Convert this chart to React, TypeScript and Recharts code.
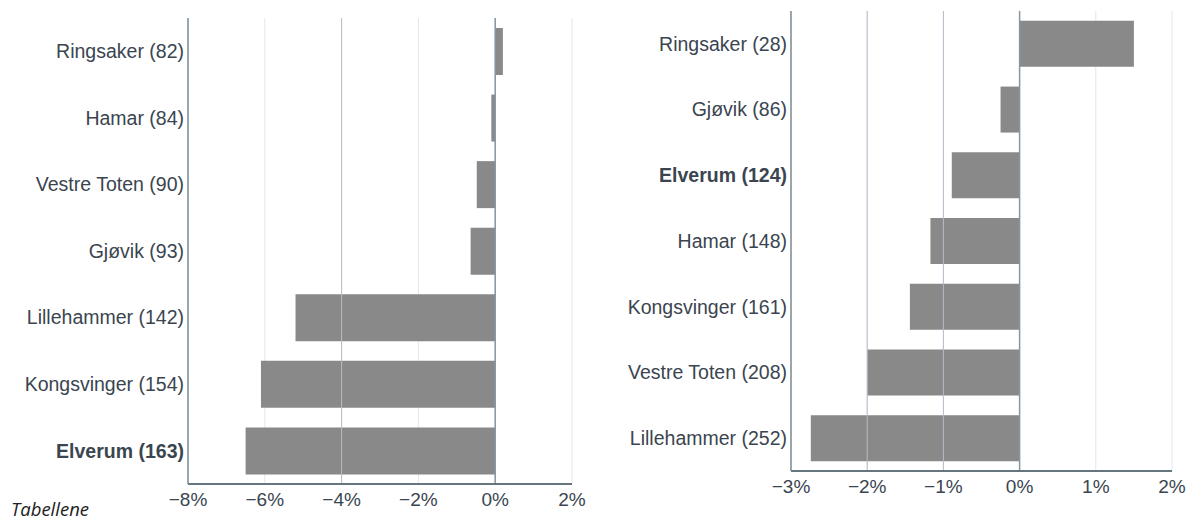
import React from 'react';
import { BarChart, Bar, XAxis, YAxis, CartesianGrid, ReferenceLine } from 'recharts';

// Left panel
const leftNames = ['Ringsaker (82)', 'Hamar (84)', 'Vestre Toten (90)', 'Gjøvik (93)', 'Lillehammer (142)', 'Kongsvinger (154)', 'Elverum (163)'];
const leftValues = [0.2, -0.1, -0.48, -0.64, -5.2, -6.1, -6.5];
const leftTicks = [-8, -6, -4, -2, 0, 2];

// Right panel
const rightNames = ['Ringsaker (28)', 'Gjøvik (86)', 'Elverum (124)', 'Hamar (148)', 'Kongsvinger (161)', 'Vestre Toten (208)', 'Lillehammer (252)'];
const rightValues = [1.5, -0.25, -0.89, -1.17, -1.44, -2.0, -2.74];
const rightTicks = [-3, -2, -1, 0, 1, 2];

const highlight = 'Elverum';
const source = 'Tabellene';

const TEXT = '#3a4550';
const FONT = '"Liberation Sans", Arial, sans-serif';

const fmt = (v: number) => (v < 0 ? '\u2212' + Math.abs(v) : String(v)) + '%';

const NameTick = (props: any) => {
  const { x, y, payload } = props;
  const bold = String(payload.value).startsWith(highlight);
  return (
    <text x={x} y={y} dy="0.35em" textAnchor="end" fill={TEXT} fontSize={19.5}
      fontFamily={FONT} fontWeight={bold ? 700 : 400}>
      {payload.value}
    </text>
  );
};

function Panel(props: {
  names: string[]; values: number[]; ticks: number[]; darkLines: number[];
  width: number; height: number; top: number; yWidth: number;
}) {
  const data = props.names.map((name, i) => ({ name, value: props.values[i] }));
  const dom: [number, number] = [props.ticks[0], props.ticks[props.ticks.length - 1]];
  return (
    <BarChart layout="vertical" width={props.width} height={props.height} data={data}
      margin={{ top: props.top, right: 18, bottom: 0, left: 0 }} barCategoryGap="15%">
      <CartesianGrid horizontal={false} stroke="#e2e7eb" />
      {props.darkLines.map((v) => (
        <ReferenceLine key={v} x={v} stroke="#b4bec7" strokeWidth={1} />
      ))}
      <XAxis type="number" domain={dom} ticks={props.ticks} tickFormatter={fmt}
        tickLine={false} tickMargin={3} height={30} interval={0}
        axisLine={{ stroke: '#66767f', strokeWidth: 2 }}
        tick={{ fill: TEXT, fontSize: 19, fontFamily: FONT }} />
      <YAxis type="category" dataKey="name" width={props.yWidth} tickLine={false}
        tickSize={0} tickMargin={4} interval={0}
        axisLine={{ stroke: '#7d8c95', strokeWidth: 1.5 }} tick={<NameTick />} />
      <Bar dataKey="value" fill="#898989" isAnimationActive={false} />
      <ReferenceLine x={0} stroke="#8795a0" strokeWidth={1.5} />
    </BarChart>
  );
}

export default function App() {
  return (
    <div style={{ position: 'absolute', left: 0, top: 0, width: 1190, height: 522, background: '#fff' }}>
      <div style={{ position: 'absolute', left: 0, top: 0 }}>
        <Panel names={leftNames} values={leftValues} ticks={leftTicks} darkLines={[-4]}
          width={590} height={514} top={18} yWidth={188} />
      </div>
      <div style={{ position: 'absolute', left: 600, top: 0 }}>
        <Panel names={rightNames} values={rightValues} ticks={rightTicks} darkLines={[-2, -1]}
          width={590} height={501} top={11} yWidth={191} />
      </div>
      <div style={{ position: 'absolute', left: 11, top: 497, fontFamily: '"Open Sans", sans-serif',
        fontStyle: 'italic', fontSize: 18.5, color: '#222', lineHeight: '24px' }}>
        {source}
      </div>
    </div>
  );
}
